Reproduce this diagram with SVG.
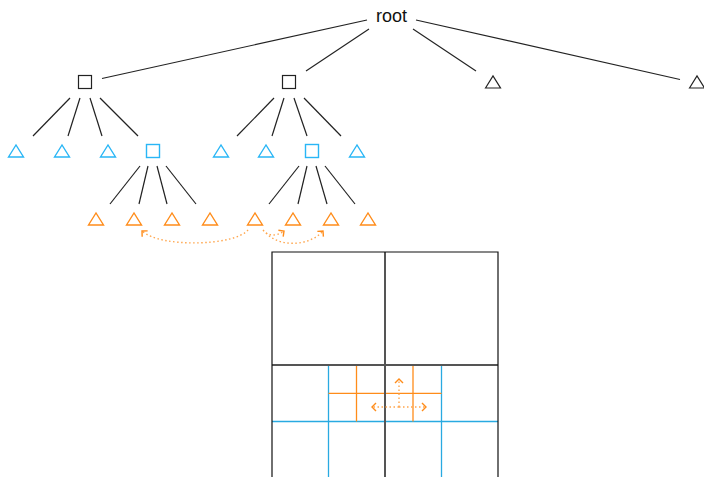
<svg xmlns="http://www.w3.org/2000/svg" width="704" height="477" viewBox="0 0 704 477">
  <style>
    .edge { stroke: #222; stroke-width: 1.2; fill: none; }
    .lbl { font-family: "Liberation Sans", Arial, sans-serif; font-size: 18px; fill: #111; }
    .blk { stroke: #222; stroke-width: 1.2; fill: none; }
    .cyan { stroke: #29b6f6; stroke-width: 1.4; fill: none; }
    .orange { stroke: #ff8c1a; stroke-width: 1.4; fill: none; }
    .link { stroke: #ffa64d; stroke-width: 1.4; fill: none; stroke-dasharray: 1.5 2.5; }
    .grid { stroke: #111; stroke-width: 1.2; fill: none; }
    .gmid { stroke: #555; stroke-width: 2; fill: none; }
    .gcyan { stroke: #29aae1; stroke-width: 1.3; fill: none; }
    .gor { stroke: #ff8c1a; stroke-width: 1.3; fill: none; }
  </style>
  <defs>
    <!-- open right-angle arrowhead -->
    <marker id="chev" viewBox="0 0 10 10" refX="9" refY="5" markerWidth="10" markerHeight="10" markerUnits="userSpaceOnUse" orient="auto">
      <path d="M5,1 L9,5 L5,9" fill="none" stroke="#ff8c1a" stroke-width="1.4"/>
    </marker>
    <path id="tri" d="M-7.5,6 L0,-6 L7.5,6 Z"/>
    <rect id="sq" x="-6.5" y="-6.5" width="13" height="13"/>
  </defs>

  <!-- tree edges -->
  <g id="connectors">
    <line class="edge" x1="367" y1="20" x2="102" y2="78.5"/>
    <line class="edge" x1="369" y1="29" x2="306" y2="71"/>
    <line class="edge" x1="413" y1="29" x2="476" y2="71"/>
    <line class="edge" x1="416" y1="20" x2="680" y2="79.5"/>

    <line class="edge" x1="70" y1="98" x2="33" y2="136"/>
    <line class="edge" x1="80" y1="98" x2="68" y2="136"/>
    <line class="edge" x1="90" y1="98" x2="102" y2="136"/>
    <line class="edge" x1="100" y1="98" x2="138" y2="136"/>

    <line class="edge" x1="274" y1="98" x2="237" y2="136"/>
    <line class="edge" x1="284" y1="98" x2="272" y2="136"/>
    <line class="edge" x1="294" y1="98" x2="307" y2="136"/>
    <line class="edge" x1="304" y1="98" x2="341" y2="136"/>

    <line class="edge" x1="140" y1="166" x2="110" y2="204"/>
    <line class="edge" x1="148" y1="166" x2="139" y2="204"/>
    <line class="edge" x1="157" y1="166" x2="167" y2="204"/>
    <line class="edge" x1="166" y1="166" x2="196" y2="204"/>

    <line class="edge" x1="299" y1="166" x2="269" y2="204"/>
    <line class="edge" x1="307" y1="166" x2="298" y2="204"/>
    <line class="edge" x1="316" y1="166" x2="327" y2="204"/>
    <line class="edge" x1="325" y1="166" x2="355" y2="204"/>

    <!-- dotted neighbour links between leaves -->
    <path class="link" d="M248,230 C235,246 160,248 142,231" marker-end="url(#chev)"/>
    <path class="link" d="M263,230 C268,236 276,237 284,231" marker-end="url(#chev)"/>
    <path class="link" d="M266,233 C280,248 310,246 323,231" marker-end="url(#chev)"/>
  </g>

  <!-- root -->
  <g id="root"><text class="lbl" x="391.5" y="22" text-anchor="middle">root</text></g>

  <!-- level 1 -->
  <g id="n1"><use href="#sq" class="blk" x="85" y="82"/></g>
  <g id="n2"><use href="#sq" class="blk" x="289" y="82"/></g>
  <g id="n3"><use href="#tri" class="blk" x="493" y="82"/></g>
  <g id="n4"><use href="#tri" class="blk" x="697" y="82"/></g>

  <!-- level 2 -->
  <g id="n1a"><use href="#tri" class="cyan" x="16" y="151"/></g>
  <g id="n1b"><use href="#tri" class="cyan" x="62" y="151"/></g>
  <g id="n1c"><use href="#tri" class="cyan" x="108" y="151"/></g>
  <g id="n1d"><use href="#sq" class="cyan" x="153" y="151"/></g>
  <g id="n2a"><use href="#tri" class="cyan" x="221" y="151"/></g>
  <g id="n2b"><use href="#tri" class="cyan" x="266" y="151"/></g>
  <g id="n2c"><use href="#sq" class="cyan" x="312" y="151"/></g>
  <g id="n2d"><use href="#tri" class="cyan" x="357" y="151"/></g>

  <!-- level 3 -->
  <g id="n1d1"><use href="#tri" class="orange" x="96" y="219"/></g>
  <g id="n1d2"><use href="#tri" class="orange" x="134" y="219"/></g>
  <g id="n1d3"><use href="#tri" class="orange" x="172" y="219"/></g>
  <g id="n1d4"><use href="#tri" class="orange" x="210" y="219"/></g>
  <g id="n2c1"><use href="#tri" class="orange" x="255" y="219"/></g>
  <g id="n2c2"><use href="#tri" class="orange" x="293" y="219"/></g>
  <g id="n2c3"><use href="#tri" class="orange" x="331" y="219"/></g>
  <g id="n2c4"><use href="#tri" class="orange" x="368" y="219"/></g>

  <!-- spatial subdivision -->
  <g id="grid">
    <line class="gcyan" x1="272" y1="421.5" x2="498" y2="421.5"/>
    <line class="gcyan" x1="328.5" y1="365" x2="328.5" y2="477"/>
    <line class="gcyan" x1="441.5" y1="365" x2="441.5" y2="477"/>
    <line class="gor" x1="328.5" y1="393.3" x2="441.5" y2="393.3"/>
    <line class="gor" x1="356.5" y1="365" x2="356.5" y2="421.5"/>
    <line class="gor" x1="413" y1="365" x2="413" y2="421.5"/>
    <line class="gmid" x1="272" y1="365" x2="498" y2="365"/>
    <line class="gmid" x1="385" y1="252" x2="385" y2="477"/>
    <path class="grid" d="M272,477 V252 H498 V477"/>
    <path class="link" d="M399,407 H372" marker-end="url(#chev)"/>
    <path class="link" d="M399,407 H426" marker-end="url(#chev)"/>
    <path class="link" d="M399,407 V379" marker-end="url(#chev)"/>
  </g>
</svg>
